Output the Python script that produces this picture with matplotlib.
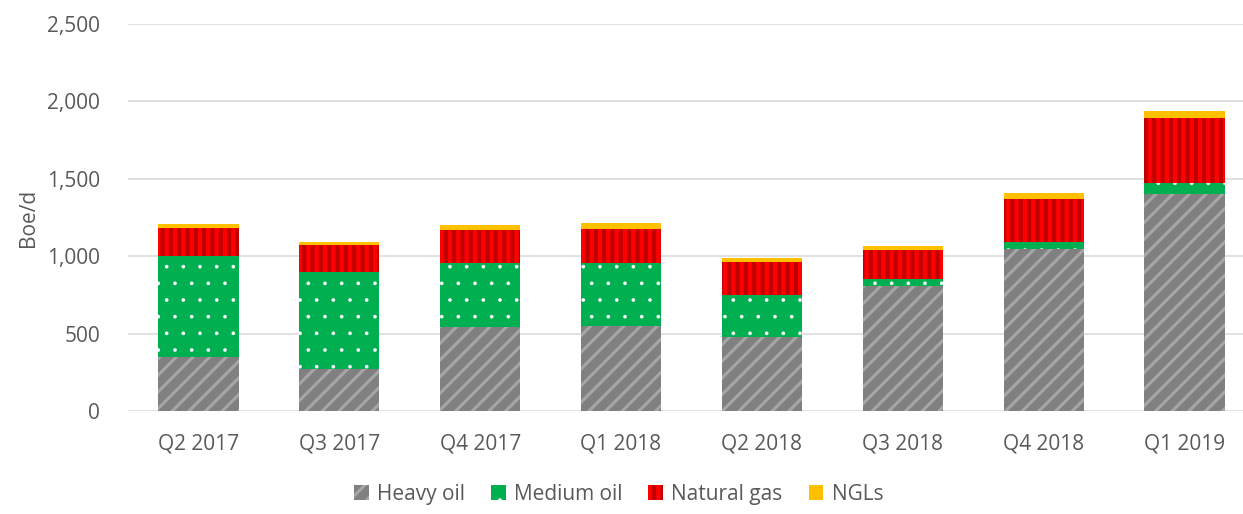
import numpy as np
import matplotlib
matplotlib.use("Agg")
import matplotlib.pyplot as plt
from matplotlib.ticker import FuncFormatter

quarters = ["Q2 2017", "Q3 2017", "Q4 2017", "Q1 2018",
            "Q2 2018", "Q3 2018", "Q4 2018", "Q1 2019"]
heavy_oil = [350, 270, 545, 550, 480, 805, 1045, 1405]
medium_oil = [650, 630, 410, 405, 270, 50, 45, 65]
natural_gas = [180, 175, 215, 220, 215, 185, 280, 420]
ngls = [25, 15, 30, 40, 25, 25, 40, 45]

TEXT = "#595959"
plt.rcParams["font.family"] = ["Open Sans", "DejaVu Sans"]

fig = plt.figure(figsize=(12.43, 5.14), dpi=100)
ax = fig.add_axes([128 / 1243, 103 / 514, 1115 / 1243, 387 / 514])

x = np.arange(len(quarters))
width = 0.57
bottom = np.zeros(len(quarters))

# (values, label, face, hatch, hatch colour, hatch width)
series = [
    (heavy_oil, "Heavy oil", "#808080", "//", "#A6A6A6", 2.2),
    (medium_oil, "Medium oil", "#00B050", ".", "white", 0.2),
    (natural_gas, "Natural gas", "#FF0000", "||", "#C00000", 2.9),
    (ngls, "NGLs", "#FFC000", None, "#FFC000", 1.0),
]
for vals, label, face, hatch, hcol, hlw in series:
    vals = np.asarray(vals, dtype=float)
    with plt.rc_context({"hatch.linewidth": hlw, "hatch.color": hcol}):
        bars = ax.bar(x, vals, width, bottom=bottom, label=label, color=face,
                      edgecolor=hcol, linewidth=0, hatch=hatch, zorder=3)
    for b in bars:
        if hasattr(b, "set_hatch_linewidth"):
            b.set_hatch_linewidth(hlw)
    bottom += vals

ax.set_xlim(-0.5, 7.5 - 12 / 141)
ax.set_ylim(0, 2500)
ax.set_yticks(np.arange(0, 2501, 500))
ax.yaxis.set_major_formatter(FuncFormatter(lambda v, p: f"{v:,.0f}"))
ax.set_xticks(x, labels=quarters)
ax.grid(axis="y", color="#D9D9D9", linewidth=1.1, zorder=0)
for s in ax.spines.values():
    s.set_visible(False)
ax.tick_params(length=0, labelsize=15, labelcolor=TEXT)
ax.tick_params(axis="y", pad=20)
ax.tick_params(axis="x", pad=16)
ax.set_ylabel("Boe/d", fontsize=15, color=TEXT, labelpad=6)

leg = ax.legend(loc="lower center", bbox_to_anchor=(0.44, -105 / 387), ncol=4,
                frameon=False, fontsize=15, labelcolor=TEXT, handlelength=0.7,
                handleheight=0.7, handletextpad=0.4, columnspacing=1.25,
                borderpad=0.05)
for h, (_, _, _, _, _, hlw) in zip(leg.legend_handles, series):
    if hasattr(h, "set_hatch_linewidth"):
        h.set_hatch_linewidth(hlw)

fig.savefig("out.png", dpi=100)
